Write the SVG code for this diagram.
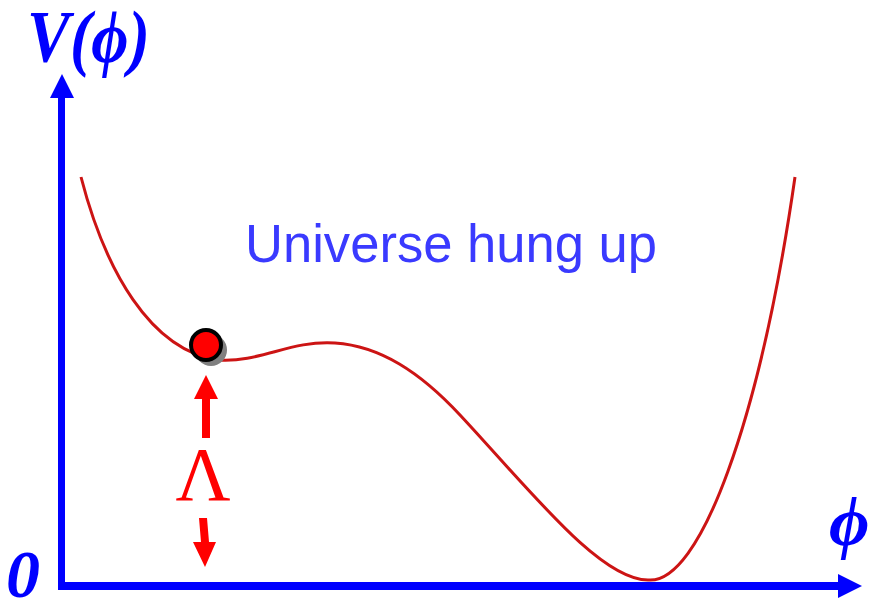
<svg xmlns="http://www.w3.org/2000/svg" width="869" height="603" viewBox="0 0 869 603">
<style>
.ax{fill:#0000ff}
.lbl{font-family:"Liberation Serif","DejaVu Serif",serif;font-weight:bold;font-style:italic;fill:#0000ff}
.red{fill:#ff0000}
</style>
<rect width="869" height="603" fill="#ffffff"/>
<g id="axes">
<rect class="ax" x="58" y="96" width="7" height="494"/>
<polygon class="ax" points="62,74 50,98 74,98"/>
<rect class="ax" x="58" y="582" width="782" height="8"/>
<polygon class="ax" points="862,586 838,574 838,598"/>
</g>
<g id="labels">
<text class="lbl" x="27" y="62" font-size="74" textLength="123" lengthAdjust="spacingAndGlyphs">V(ϕ)</text>
<text class="lbl" x="6" y="597" font-size="68">0</text>
<text class="lbl" x="829" y="545" font-size="70">ϕ</text>
<text x="245" y="262" font-family="Liberation Sans, Arial, sans-serif" font-size="54" fill="#3a3aff" textLength="412" lengthAdjust="spacingAndGlyphs">Universe hung up</text>
</g>
<g id="curve">
<path d="M81,177 C105,270 150,350 218,360 C260,363 290,340 335,343 C380,346 420,372 460,415 C530,490 600,580 648,580 C700,585 760,420 795,177" fill="none" stroke="#cc1414" stroke-width="3"/>
</g>
<g id="ball">
<circle cx="211" cy="350" r="16" fill="#808080"/>
<circle cx="206" cy="345" r="15" fill="#ff0000" stroke="#000000" stroke-width="4"/>
</g>
<g id="lambda">
<rect class="red" x="202" y="397" width="8" height="41"/>
<polygon class="red" points="206,375 194,399 218,399"/>
<text x="203" y="500" font-family="Liberation Serif, Times New Roman, serif" font-size="76" fill="#ff0000" text-anchor="middle">Λ</text>
<polygon class="red" points="199,518 207,518 209,542 216,542 205,567 193,542 201,542"/>
</g>
</svg>
